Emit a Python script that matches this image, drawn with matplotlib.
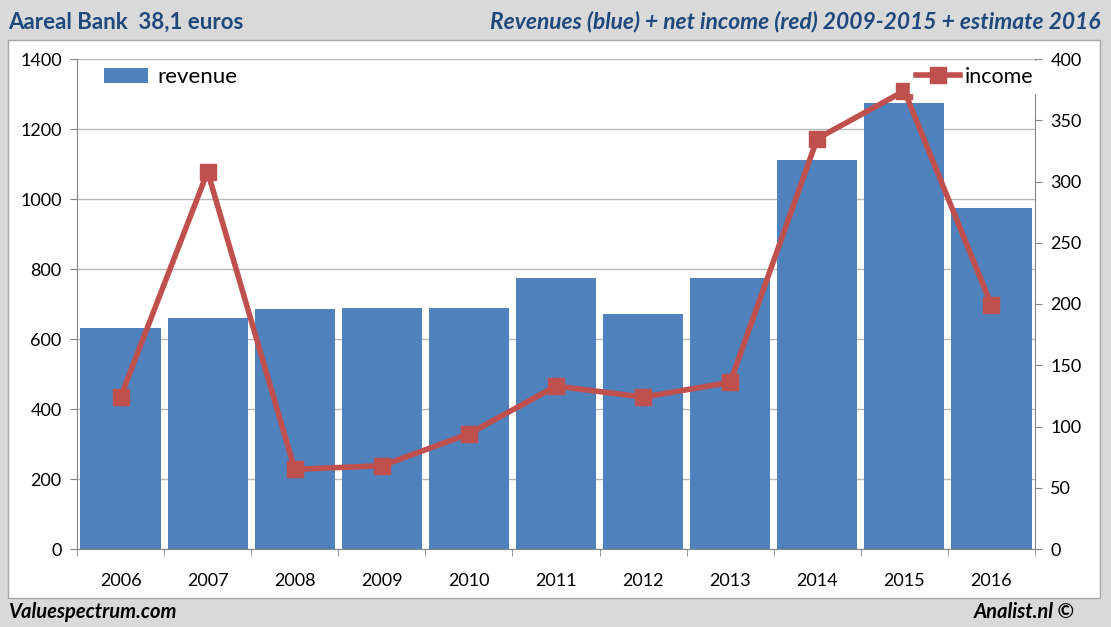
import matplotlib.pyplot as plt
from matplotlib.patches import Rectangle
import numpy as np

years = ['2006', '2007', '2008', '2009', '2010', '2011', '2012', '2013', '2014', '2015', '2016']
revenue = [631, 660, 686, 689, 689, 774, 671, 774, 1111, 1274, 974]
income = [124, 308, 65, 68, 94, 133, 124, 136, 335, 374, 199]

title_left = 'Aareal Bank  38,1 euros'
title_right = 'Revenues (blue) + net income (red) 2009-2015 + estimate 2016'
footer_left = 'Valuespectrum.com'
footer_right = 'Analist.nl ©'

plt.rcParams['font.family'] = ['Lato', 'DejaVu Sans']

W, H = 1111, 627
fig = plt.figure(figsize=(W / 100, H / 100), dpi=100)
fig.patch.set_facecolor('#d9d9d9')

# white panel behind the chart
bg = fig.add_axes([0, 0, 1, 1], zorder=-5)
bg.set_xlim(0, W)
bg.set_ylim(H, 0)
bg.axis('off')
bg.add_patch(Rectangle((8, 40), 1100 - 8, 598 - 40, facecolor='white',
                       edgecolor='#a6a6a6', linewidth=1))

ax = fig.add_axes([77 / W, 1 - 549 / H, (1035 - 77) / W, (549 - 59) / H])
ax.set_facecolor('none')
x = np.arange(len(years))
ax.bar(x, revenue, width=0.92, color='#4f81bd', label='revenue', zorder=2)
ax.set_xlim(-0.5, len(years) - 0.5)
ax.set_ylim(0, 1400)
ax.set_yticks(range(0, 1401, 200))
ax.set_xticks(x)
ax.set_xticklabels(years)
ax.set_xticks(np.arange(-0.5, len(years)), minor=True)
ax.tick_params(axis='x', which='major', length=0, pad=17, labelsize=13)
ax.tick_params(axis='x', which='minor', length=5, color='#868686')
ax.tick_params(axis='y', length=5, color='#868686', labelsize=13, pad=6)
ax.grid(axis='y', color='#b8b8b8', linewidth=1, zorder=0)
ax.set_axisbelow(True)
for s in ['top', 'right']:
    ax.spines[s].set_visible(False)
for s in ['left', 'bottom']:
    ax.spines[s].set_color('#868686')

ax2 = ax.twinx()
ax2.plot(x, income, color='#c0504d', linewidth=4, marker='s', markersize=11,
         label='income', zorder=3)
ax2.set_ylim(0, 400)
ax2.set_yticks(range(0, 401, 50))
ax2.tick_params(axis='y', length=5, color='#868686', labelsize=13, pad=6)
for s in ['top', 'left', 'bottom']:
    ax2.spines[s].set_visible(False)
ax2.spines['right'].set_color('#868686')

leg1 = ax.legend(loc='center left', bbox_to_anchor=(104 / W, 1 - 77 / H),
                 bbox_transform=fig.transFigure, frameon=False, fontsize=16,
                 borderpad=0, borderaxespad=0, handlelength=2.0,
                 handleheight=0.65, handletextpad=0.4)
leg2 = ax2.legend(loc='center left', bbox_to_anchor=(910 / W, 1 - 77 / H),
                  bbox_transform=fig.transFigure, frameon=True, fontsize=15.5,
                  borderpad=0.3, borderaxespad=0, handlelength=2.0,
                  handletextpad=0.25, facecolor='white', edgecolor='white',
                  framealpha=1, fancybox=False)

fig.text(8 / W, 1 - 22 / H, title_left, fontsize=16, fontweight='bold',
         color='#1f497d', ha='left', va='center')
fig.text(1100 / W, 1 - 22 / H, title_right, fontsize=16.4, fontweight='bold',
         style='italic', color='#1f497d', ha='right', va='center')
fig.text(8 / W, 1 - 612 / H, footer_left, fontsize=14.5, fontweight='bold',
         style='italic', color='black', ha='left', va='center')
fig.text(1075 / W, 1 - 612 / H, footer_right, fontsize=14.5, fontweight='bold',
         style='italic', color='black', ha='right', va='center')

fig.savefig('out.png', dpi=100, facecolor=fig.get_facecolor())
